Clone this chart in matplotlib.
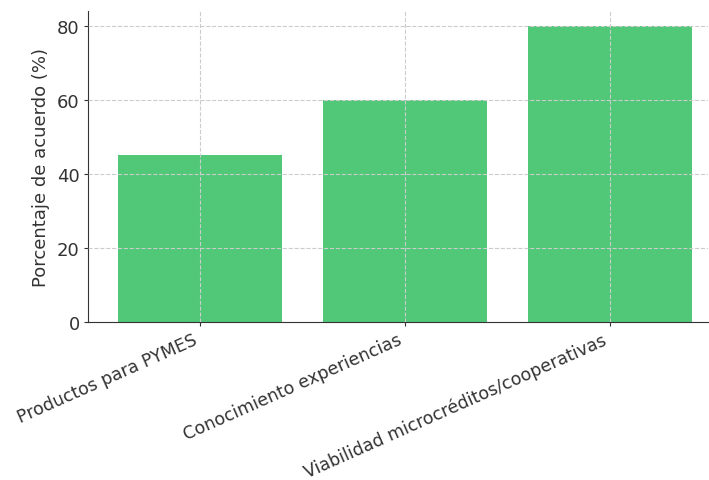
import matplotlib
matplotlib.use("Agg")
import matplotlib.pyplot as plt

categories = ["Productos para PYMES", "Conocimiento experiencias",
              "Viabilidad microcréditos/cooperativas"]
values = [45, 60, 80]

fig = plt.figure(figsize=(7.09, 4.81), dpi=100)
ax = fig.add_axes([88 / 709, 1 - 323 / 481, 620 / 709, 311 / 481])

ax.bar(categories, values, width=0.8, color="#50C878")
ax.set_axisbelow(False)
ax.grid(True, linestyle="--", color="#cccccc", linewidth=0.8)

ax.set_xlim(-0.545, 2.48)
ax.set_ylim(0, 84)
ax.set_yticks([0, 20, 40, 60, 80])
ax.set_ylabel("Porcentaje de acuerdo (%)", fontsize=13, color="#333333", labelpad=5)
ax.tick_params(labelsize=13, colors="#333333", length=3, pad=3)
ax.tick_params(axis="x", labelsize=12.5)
plt.setp(ax.get_xticklabels(), rotation=24, ha="right")

ax.spines["top"].set_visible(False)
ax.spines["right"].set_visible(False)
ax.spines["left"].set_color("#333333")
ax.spines["bottom"].set_color("#333333")

fig.savefig("out.png", dpi=100)
